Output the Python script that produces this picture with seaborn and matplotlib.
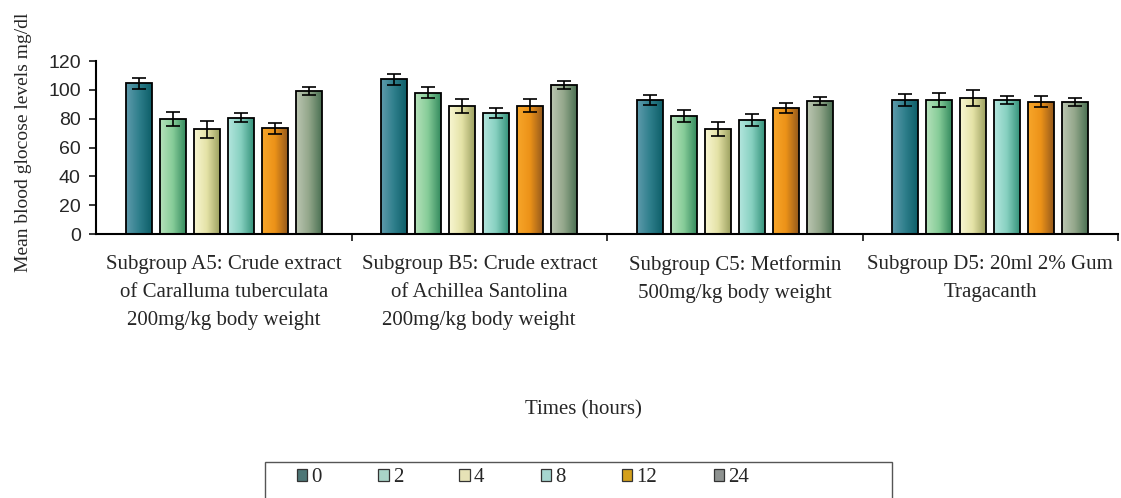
import numpy as np
import pandas as pd
import matplotlib
matplotlib.use("Agg")
import matplotlib.pyplot as plt
import seaborn as sns
from matplotlib.colors import LinearSegmentedColormap
from matplotlib.patches import Patch, Rectangle

# ---- data -------------------------------------------------------------
groups = [
    "Subgroup A5: Crude extract\nof Caralluma tuberculata\n200mg/kg body weight",
    "Subgroup B5: Crude extract\nof Achillea Santolina\n200mg/kg body weight",
    "Subgroup C5: Metformin\n500mg/kg body weight",
    "Subgroup D5: 20ml 2% Gum\nTragacanth",
]
hours = ["0", "2", "4", "8", "12", "24"]

# mean blood glucose (mg/dl) per time point, one value per subgroup
glucose_0h = [104.4, 107.3, 93.0, 93.0]
glucose_2h = [79.6, 98.1, 81.9, 93.0]
glucose_4h = [72.7, 88.9, 72.7, 94.4]
glucose_8h = [80.8, 83.8, 79.0, 93.0]
glucose_12h = [73.2, 88.9, 87.7, 91.9]
glucose_24h = [99.2, 103.4, 92.3, 91.6]

# standard error of the mean
sem_0h = [4.0, 4.0, 3.5, 4.0]
sem_2h = [5.0, 4.0, 4.0, 5.0]
sem_4h = [6.0, 5.0, 5.0, 5.5]
sem_8h = [3.0, 3.5, 4.0, 3.0]
sem_12h = [4.0, 4.5, 3.5, 3.5]
sem_24h = [2.5, 2.5, 2.5, 2.5]

# ---- colours ------------------------------------------------------------
light_cols = ["#5f9bac", "#b6e2bb", "#f8f6d2", "#b4e6de", "#f8a62a", "#bcc6b2"]
mid_cols = ["#2f7f8c", "#86cc98", "#e4e2a6", "#86d0c0", "#ec9218", "#92a68a"]
dark_cols = ["#0d5e68", "#348a5e", "#9ca060", "#35927a", "#94591c", "#4a7052"]
legend_cols = ["#4d7676", "#a9d4c8", "#e6e2b6", "#a6d6d0", "#d4a01c", "#8e9290"]

rows = []
all_vals = [glucose_0h, glucose_2h, glucose_4h, glucose_8h, glucose_12h, glucose_24h]
all_errs = [sem_0h, sem_2h, sem_4h, sem_8h, sem_12h, sem_24h]
for h, vals, errs in zip(hours, all_vals, all_errs):
    for g, v, e in zip(groups, vals, errs):
        rows.append({"group": g, "hour": h, "glucose": v, "sem": e})
df = pd.DataFrame(rows)

sns.set_theme(style="white")
plt.rcParams["font.family"] = ["Liberation Serif", "DejaVu Serif"]

W, H = 1121, 498
fig = plt.figure(figsize=(W / 100, H / 100), dpi=100)
fig.patch.set_facecolor("white")
ax = fig.add_axes([96 / W, 1 - 234 / H, (1118 - 96) / W, (234 - 61) / H])

sns.barplot(
    data=df, x="group", y="glucose", hue="hour",
    order=groups, hue_order=hours, palette=mid_cols,
    errorbar=None, width=0.8, gap=0.24,
    edgecolor="black", linewidth=1.3, legend=False, ax=ax,
)

n_hue = len(hours)
slot = 0.8 / n_hue
bars = [p for p in ax.patches if p.get_height() > 0]
xs, ys, es = [], [], []
grad = np.linspace(0, 1, 128).reshape(1, -1)
for p in bars:
    x0, w, hgt = p.get_x(), p.get_width(), p.get_height()
    xc = x0 + w / 2
    gi = int(round(xc))
    hi = int(round((xc - gi + 0.4 - slot / 2) / slot))
    # horizontal shading inside each bar
    cmap = LinearSegmentedColormap.from_list(
        f"shade{hi}", [light_cols[hi], mid_cols[hi], dark_cols[hi]])
    im = ax.imshow(grad, cmap=cmap, extent=[x0, x0 + w, 0, hgt],
                   aspect="auto", interpolation="bicubic",
                   zorder=p.get_zorder() - 0.05)
    im.set_clip_path(p)
    p.set_facecolor("none")
    xs.append(xc)
    ys.append(hgt)
    es.append(all_errs[hi][gi])

ax.errorbar(xs, ys, yerr=es, fmt="none", ecolor="black",
            elinewidth=1.2, capsize=4.8, capthick=1.2, zorder=5)

ax.set_xlim(-0.5, len(groups) - 0.5)
ax.set_ylim(0, 120)
ax.set_yticks(np.arange(0, 121, 20))
ax.tick_params(axis="y", which="major", left=True, length=5, width=1.1,
               color="black", labelsize=14, pad=6)
for lbl in ax.get_yticklabels():
    lbl.set_family(["Liberation Sans", "DejaVu Sans"])
ax.set_xticks(range(len(groups)))
ax.set_xticklabels(groups, fontsize=15, linespacing=1.65)
ax.set_xticks(np.arange(0.5, len(groups)), minor=True)
ax.tick_params(axis="x", which="major", length=0, pad=15)
ax.tick_params(axis="x", which="minor", bottom=True, length=5, width=1.1,
               color="black")
ax.set_xlabel("")
ax.set_ylabel("")
sns.despine(ax=ax)
for s in ("left", "bottom"):
    ax.spines[s].set_color("black")
    ax.spines[s].set_linewidth(1.5)

fig.text(24 / W, 1 - 272 / H, "Mean blood glocose levels mg/dl", rotation=90,
         ha="center", va="bottom", fontsize=14)
fig.text(583 / W, 1 - 410 / H, "Times (hours)", ha="center", va="center",
         fontsize=15)

# legend box running off the bottom edge
fig.patches.append(Rectangle((265 / W, -0.05), (892 - 265) / W,
                             0.05 + (1 - 462 / H), transform=fig.transFigure,
                             fill=False, edgecolor="#555555", linewidth=1.0))
handles = [Patch(facecolor=c, edgecolor="#333333", linewidth=0.9)
           for c in legend_cols]
fig.legend(handles, hours, loc="center left",
           bbox_to_anchor=(297 / W, 1 - 478 / H), ncol=6, frameon=False,
           fontsize=15, handlelength=0.5, handleheight=0.5,
           handletextpad=0.2, columnspacing=2.7, borderpad=0,
           borderaxespad=0)

fig.savefig("out.png", dpi=100, facecolor="white")
